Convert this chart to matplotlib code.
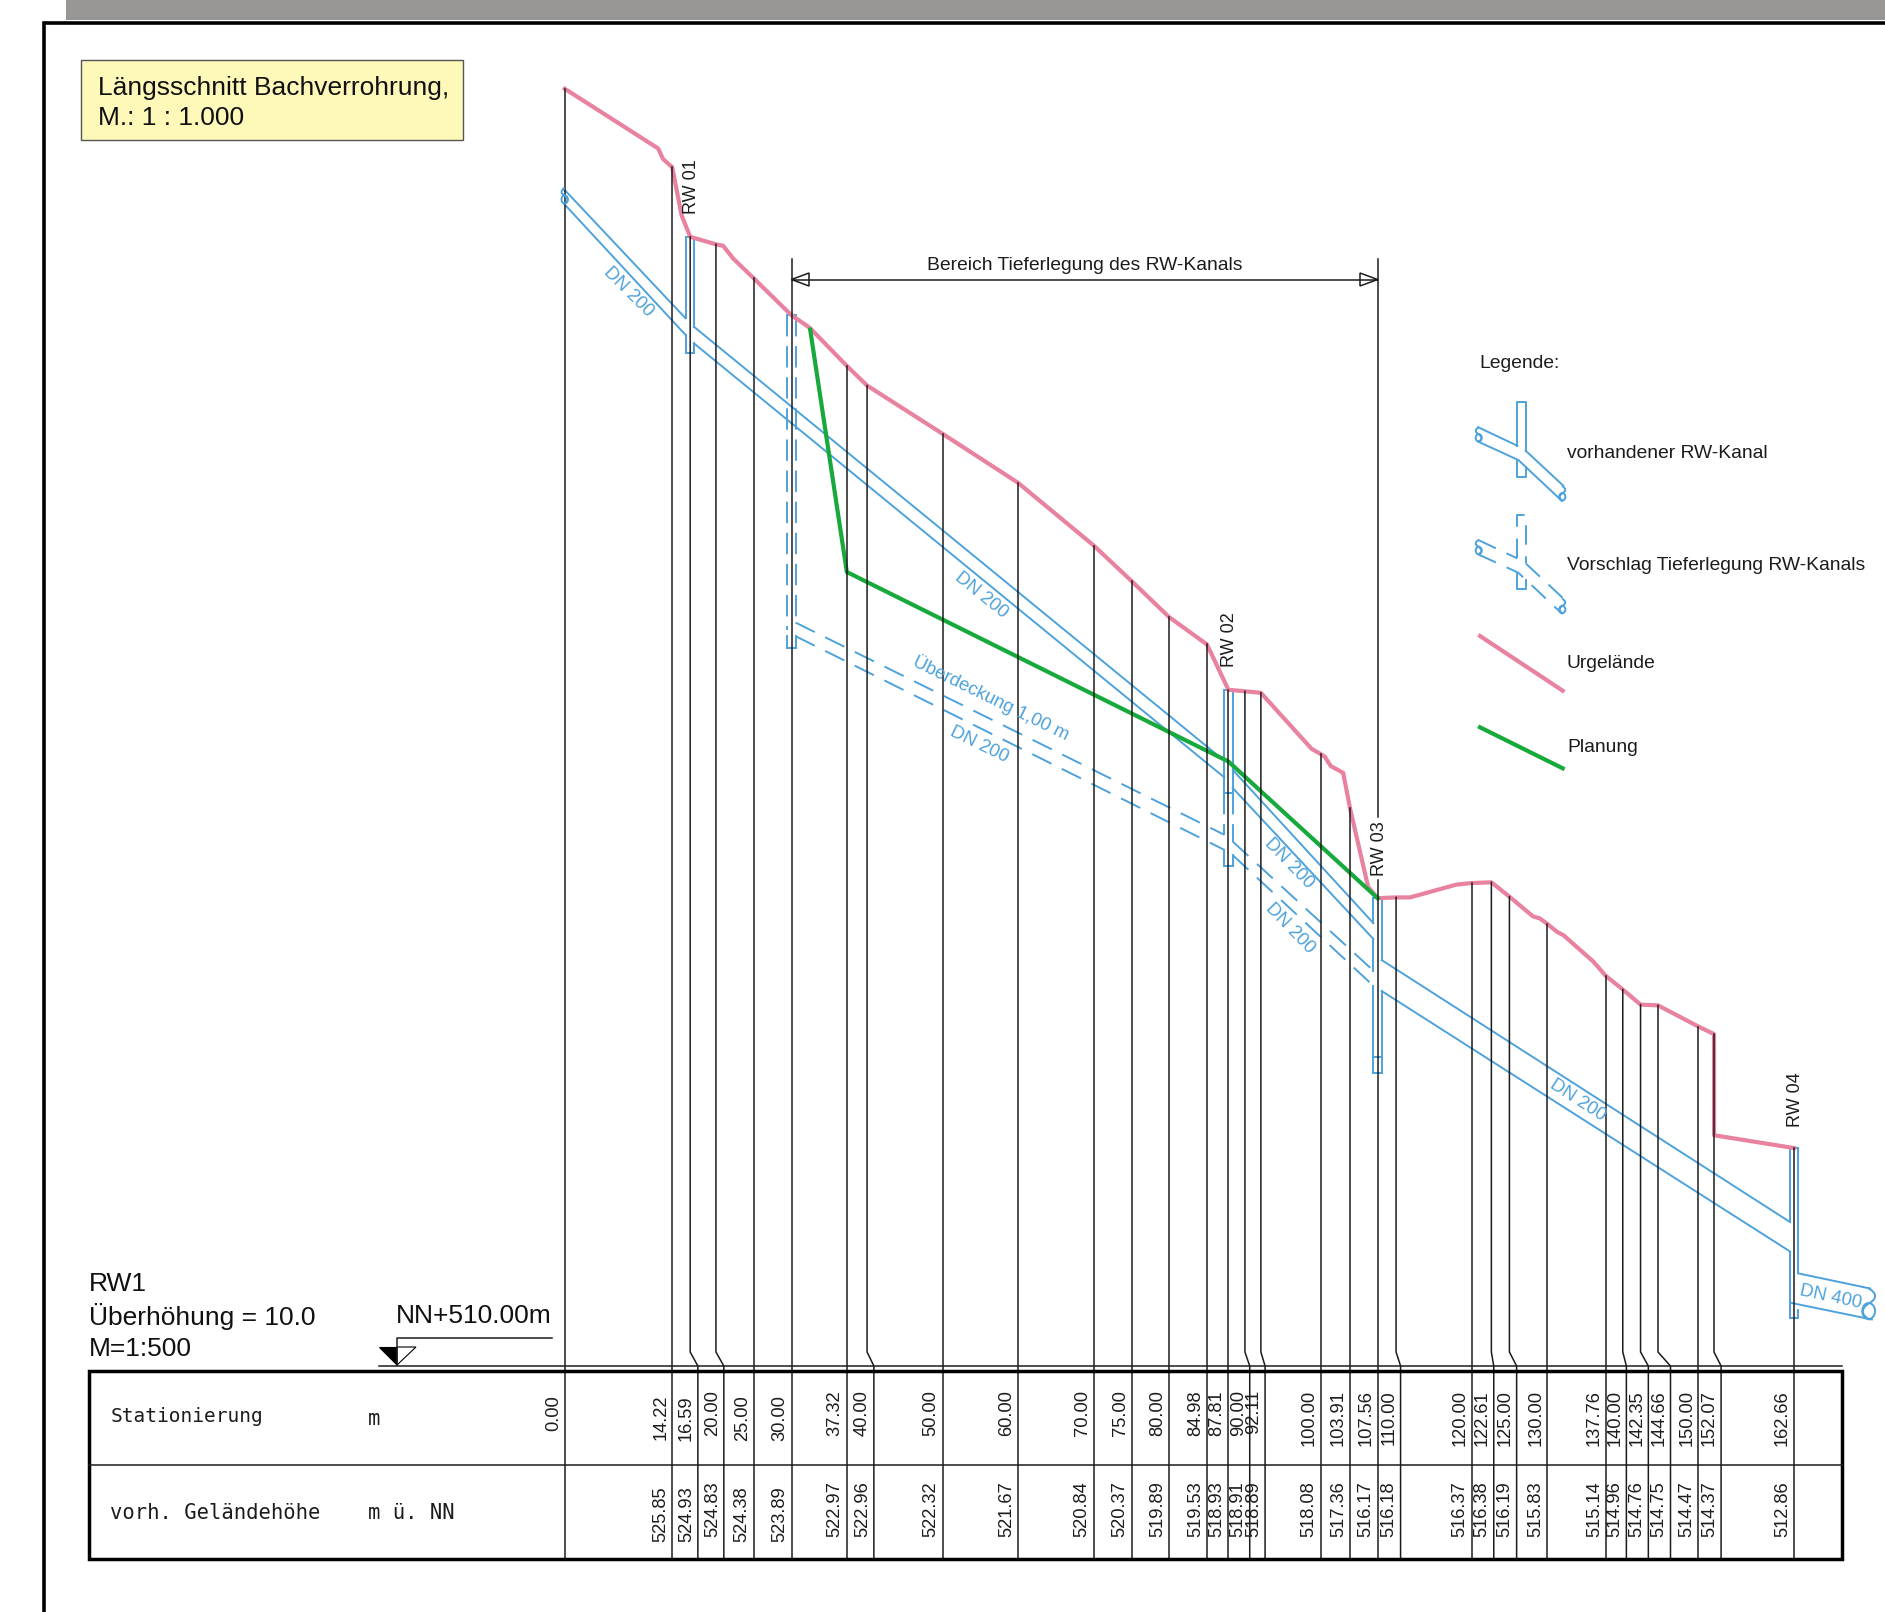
#Longitudinal section of the stream culvert, drawn in station / elevation coordinates
import matplotlib
matplotlib.use('Agg')
import numpy as np
import matplotlib.pyplot as plt
from matplotlib.patches import Ellipse, PathPatch, Polygon, Rectangle
from matplotlib.path import Path

plt.rcParams['font.family'] = ['Liberation Sans', 'DejaVu Sans']

#Table values
stations = [0.00, 14.22, 16.59, 20.00, 25.00, 30.00, 37.32, 40.00, 50.00, 60.00, 70.00,
            75.00, 80.00, 84.98, 87.81, 90.00, 92.11, 100.00, 103.91, 107.56, 110.00,
            120.00, 122.61, 125.00, 130.00, 137.76, 140.00, 142.35, 144.66, 150.00,
            152.07, 162.66]
table_heights = [None, 525.85, 524.93, 524.83, 524.38, 523.89, 522.97, 522.96, 522.32,
                 521.67, 520.84, 520.37, 519.89, 519.53, 518.93, 518.91, 518.89, 518.08,
                 517.36, 516.17, 516.18, 516.37, 516.38, 516.19, 515.83, 515.14, 514.96,
                 514.76, 514.75, 514.47, 514.37, 512.86]

#Ground line (Urgelaende)
terrain_s = [0.00, 12.35, 13.00, 14.22, 15.44, 16.59, 20.00, 20.96, 22.30, 25.00, 30.00,
             32.20, 32.65, 37.32, 40.00, 50.00, 60.00, 70.00, 75.00, 80.00, 84.98, 87.81,
             90.00, 92.11, 98.80, 100.00, 100.60, 101.35, 103.00, 103.91, 106.30, 107.56,
             110.00, 111.85, 118.00, 120.00, 122.61, 125.00, 128.10, 129.05, 130.00,
             131.35, 132.15, 136.10, 137.76, 140.00, 142.35, 144.66, 150.00, 152.07,
             152.08, 162.66]
terrain_h = [526.89, 526.10, 525.96, 525.85, 525.22, 524.93, 524.83, 524.81, 524.64, 524.38,
             523.89, 523.74, 523.70, 523.22, 522.96, 522.32, 521.67, 520.84, 520.37, 519.89,
             519.53, 518.93, 518.91, 518.89, 518.15, 518.08, 518.04, 517.92, 517.83, 517.36,
             516.32, 516.17, 516.18, 516.18, 516.35, 516.37, 516.38, 516.19, 515.93, 515.90,
             515.83, 515.72, 515.68, 515.33, 515.14, 514.96, 514.76, 514.75, 514.47, 514.37,
             513.03, 512.86]

#Planned line
plan_s = [32.47, 37.32, 87.81, 107.56]
plan_h = [523.70, 520.49, 517.98, 516.17]

#Existing sewer, each pair is (stations, heights)
existing_pipes = [([-0.20, 15.98], [525.57, 523.85]), ([-0.13, 15.98], [525.37, 523.63]),
                  ([17.07, 87.27], [523.74, 517.99]), ([17.07, 87.27], [523.52, 517.77]),
                  ([88.38, 106.99], [517.87, 515.84]), ([88.38, 106.99], [517.63, 515.63]),
                  ([108.10, 162.14], [515.35, 511.88]), ([108.10, 162.14], [514.94, 511.49]),
                  ([163.24, 172.73], [511.20, 511.00]), ([162.24, 172.96], [510.81, 510.59])]

#Proposed deeper sewer
proposed_pipes = [([30.54, 87.27], [519.82, 517.01]), ([30.54, 87.27], [519.64, 516.81]),
                  ([88.38, 106.99], [516.92, 515.21]), ([88.38, 106.99], [516.74, 515.01])]

#Shafts: station, wall pieces as (side, top, bottom, dashed), covers
shaft_half = 0.55
shaft_walls = [
    (16.59, -1, 524.93, 523.85, False), (16.59, -1, 523.63, 523.39, False),
    (16.59, 1, 524.93, 523.74, False), (16.59, 1, 523.52, 523.39, False),
    (30.00, -1, 523.89, 519.72, True), (30.00, -1, 519.64, 519.48, False),
    (30.00, 1, 523.89, 519.82, True), (30.00, 1, 519.64, 519.48, False),
    (87.81, -1, 518.93, 517.56, False), (87.81, 1, 518.93, 517.56, False),
    (87.81, -1, 517.56, 517.01, True), (87.81, 1, 517.56, 516.92, True),
    (87.81, -1, 516.81, 516.59, False), (87.81, 1, 516.74, 516.59, False),
    (107.56, -1, 516.17, 515.84, False), (107.56, -1, 515.63, 515.21, False),
    (107.56, -1, 515.01, 513.86, False), (107.56, 1, 516.17, 515.35, False),
    (107.56, 1, 514.94, 513.86, False),
    (162.66, -1, 512.86, 511.88, False), (162.66, -1, 511.49, 510.61, False),
    (162.66, 1, 512.86, 511.20, False), (162.66, 1, 510.72, 510.61, False),
]
shaft_caps_s = [16.59, 16.59, 30.00, 30.00, 87.81, 87.81, 87.81, 107.56, 107.56, 107.56, 162.66, 162.66]
shaft_caps_h = [524.93, 523.39, 523.89, 519.48, 518.93, 517.56, 516.59, 516.17, 514.06, 513.86, 512.86, 510.61]

rw_names = ['RW 01', 'RW 02', 'RW 03', 'RW 04']
rw_stations = [16.59, 87.81, 107.56, 162.66]
rw_label_h = [525.23, 519.23, 516.46, 513.14]

#Pixel layout
W, H = 1885, 1612
X0, M_PX = 564.8, 7.557
Y510, H_PX = 1364.0, 75.5
TBL_L, TBL_R = 89, 1841.5
TBL_T, TBL_M, TBL_B = 1370.5, 1465, 1559
DIM_TOP = 524.64
BLUE, PINK, GREEN, INK = '#4ea2db', '#e8829f', '#17a93c', '#1c1c1c'

#Lines that bend sideways just above the table so the numbers fit (pixels)
table_shift = {16.59: 7.7, 20.00: 7.9, 40.00: 6.8, 90.00: 4.8, 92.11: 4.2, 110.00: 4.5,
               122.61: 2.4, 125.00: 7.2, 140.00: 3.6, 142.35: 7.8, 144.66: 12.5, 152.07: 7.1}
low_stations = [0.00, 14.22, 16.59, 25.00, 30.00]
low_heights = [525.85, 524.93, 524.38, 523.89]


def elev(py):
    return 510 + (Y510 - py) / H_PX


fig = plt.figure(figsize=(W / 100, H / 100), dpi=100, facecolor='white')
ax = fig.add_axes([0, 0, 1, 1])
ax.set_xlim((0 - X0) / M_PX, (W - X0) / M_PX)
ax.set_ylim(elev(H), elev(0))
ax.axis('off')

page = fig.add_axes([0, 0, 1, 1])
page.set_xlim(0, W)
page.set_ylim(H, 0)
page.axis('off')
page.patch.set_alpha(0)

#Verticals down to the table
tops = np.interp(stations, terrain_s, terrain_h)
for s, top in zip(stations, tops):
    if s in (30.00, 107.56):
        top = DIM_TOP
    s2 = s + table_shift.get(s, 0) / M_PX
    xs = [s, s, s2, s2]
    ys = [top, elev(1352), elev(1366), elev(TBL_B)]
    if s == 107.56:
        #line stops around the RW 03 label
        xs = [s, s, np.nan, s, s, s2, s2]
        ys = [top, elev(817), np.nan, elev(880), elev(1352), elev(1366), elev(TBL_B)]
    ax.plot(xs, ys, color=INK, lw=1.1, zorder=6, solid_joinstyle='miter')

#Sewers and shafts
for s, h in existing_pipes:
    ax.plot(s, h, color=BLUE, lw=1.4, zorder=4)
for s, h in proposed_pipes:
    ax.plot(s, h, color=BLUE, lw=1.4, zorder=4, linestyle=(0, (11, 6)))
for s, side, top, bottom, dashed in shaft_walls:
    ax.plot([s + side * shaft_half] * 2, [top, bottom], color=BLUE, lw=1.4, zorder=4,
            linestyle=(0, (11, 5)) if dashed else '-')
for s, h in zip(shaft_caps_s, shaft_caps_h):
    ax.plot([s - shaft_half, s + shaft_half], [h, h], color=BLUE, lw=1.4, zorder=4)

ax.plot(terrain_s, terrain_h, color=PINK, lw=3.0, zorder=5, solid_joinstyle='round')
ax.plot(plan_s, plan_h, color=GREEN, lw=3.0, zorder=5, solid_joinstyle='round')

for name, s, h in zip(rw_names, rw_stations, rw_label_h):
    ax.text(s + 0.2, h, name, rotation=90, ha='center', va='bottom', fontsize=13, color=INK, zorder=7)


def pipe_break(x, y0, y1, flip=False):
    #curled end of a cut pipe
    d = (y1 - y0)
    k = -1 if flip else 1
    verts = [(x, y0), (x + k * d * 0.45, y0 + d * 0.25), (x, y0 + d * 0.5),
             (x - k * d * 0.35, y0 + d * 0.75), (x + k * d * 0.05, y1)]
    codes = [Path.MOVETO, Path.CURVE3, Path.CURVE3, Path.CURVE3, Path.CURVE3]
    page.add_patch(PathPatch(Path(verts, codes), fill=False, edgecolor=BLUE, lw=1.4))
    page.add_patch(Ellipse((x + k * d * 0.02, y0 + d * 0.72), d * 0.4, d * 0.5, fill=False,
                           edgecolor=BLUE, lw=1.4))


pipe_break(565, 188, 204, flip=True)
pipe_break(1868, 1288, 1320)

#Pipe labels
pipe_labels = [('DN 200', 628, 292, -45), ('DN 200', 981, 595, -39),
               ('Überdeckung 1,00 m', 991, 698, -26), ('DN 200', 979, 745, -26),
               ('DN 200', 1289, 863, -46), ('DN 200', 1290, 928, -46),
               ('DN 200', 1578, 1100, -33), ('DN 400', 1831, 1297, -12)]
for txt, x, y, rot in pipe_labels:
    page.text(x, y, txt, rotation=rot, rotation_mode='anchor', ha='center', va='center',
              fontsize=13.3, color=BLUE)

#Dimension line
page.plot([791.5, 1377.6], [279.5, 279.5], color=INK, lw=1.1)
page.add_patch(Polygon([(791.5, 279.5), (809, 273), (809, 286)], closed=True, fc='white', ec=INK, lw=1.1))
page.add_patch(Polygon([(1377.6, 279.5), (1360, 273), (1360, 286)], closed=True, fc='white', ec=INK, lw=1.1))
page.text(1084.5, 265, 'Bereich Tieferlegung des RW-Kanals', ha='center', va='center',
          fontsize=13.9, color=INK)

#Page frame and title box
page.add_patch(Rectangle((66, 0), W - 66, 20, fc='#989694', ec='none'))
page.plot([43.5, 43.5, W], [H, 22.5, 22.5], color='black', lw=2.6, solid_joinstyle='miter')
page.add_patch(Rectangle((81, 60), 381.5, 79.5, fc='#fef9b8', ec='#555555', lw=1.0))
page.text(98, 88, 'Längsschnitt Bachverrohrung,', va='center', fontsize=19, color='#111111')
page.text(98, 118, 'M.: 1 : 1.000', va='center', fontsize=19, color='#111111')

#Text above the table
page.text(89, 1284, 'RW1', va='center', fontsize=19, color='#111111')
page.text(89, 1316, 'Überhöhung = 10.0', va='center', fontsize=19, color='#111111')
page.text(89, 1349, 'M=1:500', va='center', fontsize=19, color='#111111')
page.text(552, 1316, 'NN+510.00m', ha='right', va='center', fontsize=19, color='#111111')
page.plot([552, 397, 397], [1337.7, 1337.7, 1365], color=INK, lw=1.1)
page.add_patch(Polygon([(379, 1347), (397, 1347), (397, 1365)], closed=True, fc='black', ec='black', lw=0.8))
page.add_patch(Polygon([(397, 1347), (416, 1347), (397, 1365)], closed=True, fc='white', ec='black', lw=0.8))

#Table
page.plot([379, TBL_R], [1366, 1366], color=INK, lw=1.1)
page.add_patch(Rectangle((TBL_L, TBL_T), TBL_R - TBL_L, TBL_B - TBL_T, fill=False, ec='black',
                         lw=2.5, joinstyle='miter'))
page.plot([TBL_L, TBL_R], [TBL_M, TBL_M], color=INK, lw=1.1)
for txt, x, y, size in [('Stationierung', 110.5, 1417, 14), ('m', 368, 1419, 14.8),
                        ('vorh. Geländehöhe', 110.5, 1513, 14.8), ('m ü. NN', 368, 1513, 14.8)]:
    page.text(x, y, txt, va='center', fontsize=size, family='DejaVu Sans Mono', color=INK)

for s, height in zip(stations, table_heights):
    x = s + (table_shift.get(s, 0) - 3) / M_PX
    y = 1395 if s in low_stations else 1390
    ax.text(x, elev(y), f'{s:.2f}', rotation=90, ha='right', va='top', fontsize=13.2, color=INK)
    if height is not None:
        y = 1486 if height in low_heights else 1481
        ax.text(x, elev(y), f'{height:.2f}', rotation=90, ha='right', va='top', fontsize=13.2, color=INK)

#Legend
page.text(1479, 363, 'Legende:', va='center', fontsize=13.9, color=INK)
for txt, y in [('vorhandener RW-Kanal', 453), ('Vorschlag Tieferlegung RW-Kanals', 566),
               ('Urgelände', 663), ('Planung', 748)]:
    page.text(1567, y, txt, va='center', fontsize=13.9, color=INK)


def legend_pipe(dy, style):
    kw = dict(color=BLUE, lw=1.4)
    page.plot([1478.3, 1517.3], [427.3 + dy, 445.7 + dy], linestyle=style, **kw)
    page.plot([1478.3, 1518.3, 1561.7], [441.7 + dy, 460 + dy, 500.7 + dy], linestyle=style, **kw)
    page.plot([1525.7, 1563.3], [450.7 + dy, 485.7 + dy], linestyle=style, **kw)
    page.plot([1517.3, 1517.3, 1525.7, 1525.7], [445.7 + dy, 402.3 + dy, 402.3 + dy, 450.7 + dy],
              linestyle=style, **kw)
    page.plot([1517.3, 1517.3, 1525.7, 1525.7], [460 + dy, 476.7 + dy, 476.7 + dy, 467 + dy], **kw)
    pipe_break(1479, 427 + dy, 442 + dy, flip=True)
    pipe_break(1562, 486 + dy, 501 + dy)


legend_pipe(0, '-')
legend_pipe(112.7, (0, (10, 6)))
page.plot([1480, 1562.7], [636, 690.7], color=PINK, lw=3.0)
page.plot([1480, 1562.7], [727.3, 768.3], color=GREEN, lw=3.0)

plt.savefig('out.png', dpi=100)
